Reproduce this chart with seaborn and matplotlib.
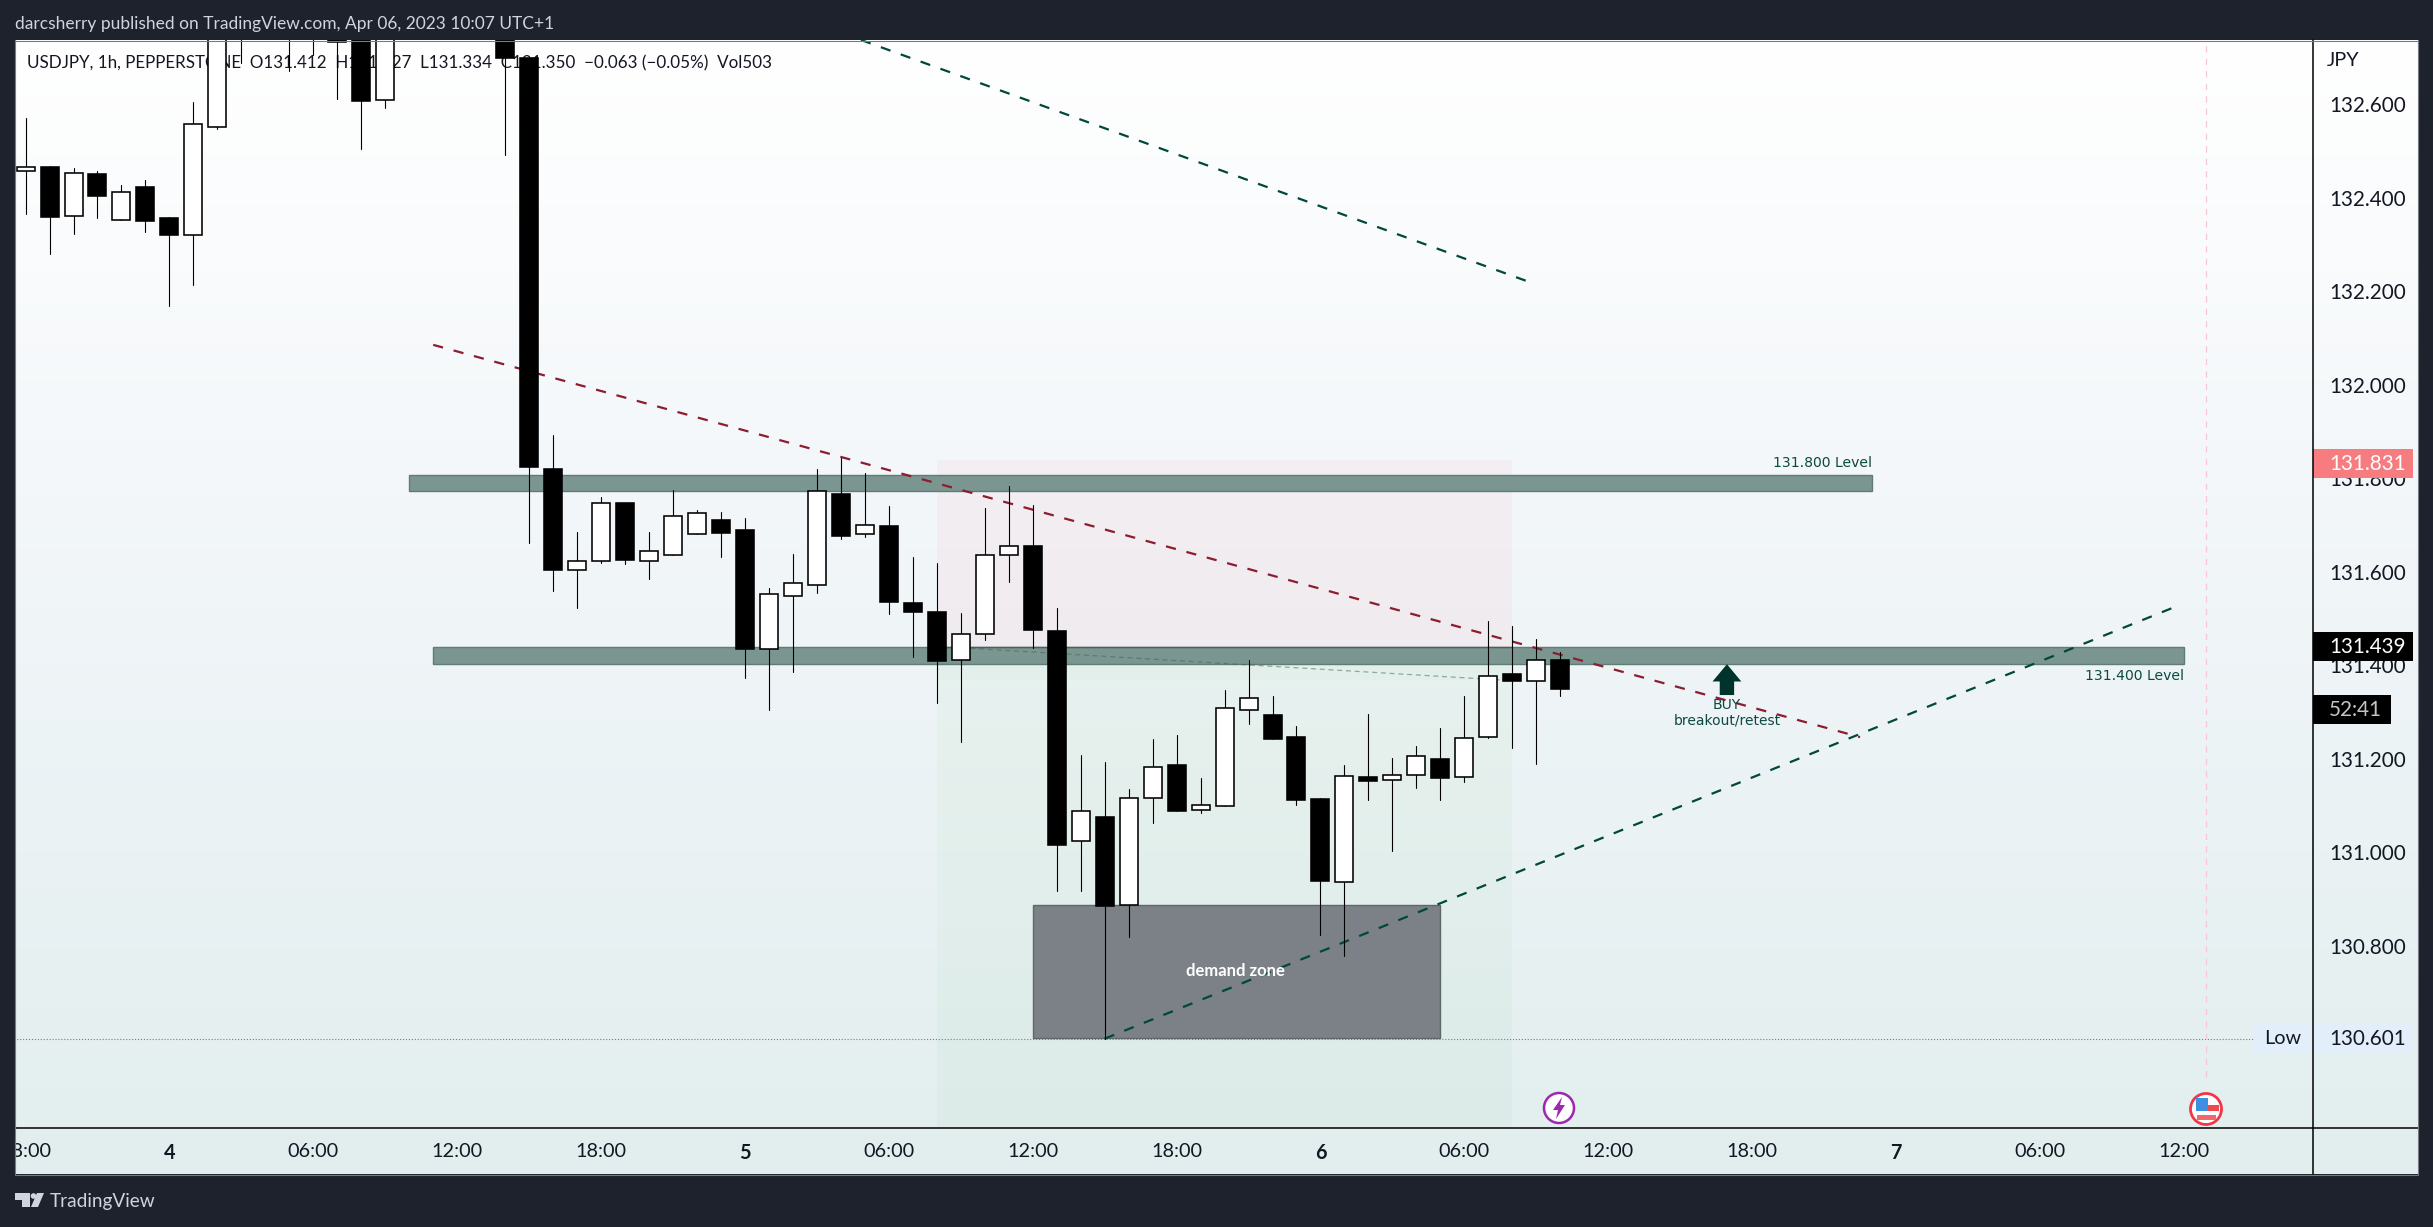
import numpy as np
import pandas as pd
import matplotlib
matplotlib.use("Agg")
import matplotlib.pyplot as plt
import seaborn as sns
from matplotlib.colors import LinearSegmentedColormap
from matplotlib.patches import Rectangle, Circle, Polygon

# candles, one per hour, first one is Apr 3 18:00. Prices,
# the ones above the top of the chart are guesses (they are clipped anyway)
highs = [132.570, 132.467, 132.463, 132.456, 132.427, 132.437, 132.358, 132.604, 132.900, 133.000,
         133.100, 133.100, 133.050, 133.000, 132.950, 132.850, 132.950, 132.950, 132.950, 132.950,
         132.900, 132.699, 131.892, 131.685, 131.759, 131.747, 131.685, 131.774, 131.732, 131.727,
         131.715, 131.565, 131.638, 131.819, 131.844, 131.811, 131.740, 131.631, 131.618, 131.511,
         131.736, 131.783, 131.742, 131.522, 131.207, 131.192, 131.135, 131.241, 131.250, 131.158,
         131.347, 131.410, 131.334, 131.270, 131.116, 131.186, 131.295, 131.201, 131.227, 131.265,
         131.334, 131.494, 131.483, 131.456, 131.427]
lows = [132.365, 132.280, 132.323, 132.357, 132.353, 132.327, 132.169, 132.214, 132.547, 132.687,
        132.850, 132.670, 132.705, 132.611, 132.504, 132.592, 132.760, 132.760, 132.760, 132.760,
        132.490, 131.662, 131.559, 131.523, 131.619, 131.617, 131.585, 131.636, 131.681, 131.632,
        131.373, 131.305, 131.386, 131.555, 131.670, 131.675, 131.510, 131.418, 131.320, 131.236,
        131.454, 131.578, 131.437, 130.917, 130.917, 130.601, 130.819, 131.063, 131.088, 131.084,
        131.099, 131.275, 131.242, 131.101, 130.823, 130.778, 131.111, 131.003, 131.138, 131.111,
        131.150, 131.245, 131.223, 131.189, 131.334]
body_tops = [132.465, 132.465, 132.452, 132.450, 132.411, 132.423, 132.356, 132.557, 132.850, 132.950,
             133.050, 133.000, 133.000, 132.950, 132.850, 132.800, 132.900, 132.900, 132.900, 132.900,
             132.850, 132.699, 131.819, 131.622, 131.746, 131.747, 131.645, 131.720, 131.725, 131.710,
             131.689, 131.553, 131.575, 131.772, 131.766, 131.699, 131.697, 131.533, 131.514, 131.466,
             131.635, 131.654, 131.655, 131.473, 131.087, 131.075, 131.115, 131.183, 131.186, 131.100,
             131.309, 131.329, 131.293, 131.246, 131.113, 131.162, 131.160, 131.166, 131.205, 131.200,
             131.245, 131.376, 131.380, 131.412, 131.412]
body_bots = [132.456, 132.359, 132.361, 132.404, 132.353, 132.350, 132.320, 132.321, 132.550, 132.850,
             132.950, 132.900, 132.850, 132.733, 132.607, 132.608, 132.800, 132.800, 132.800, 132.800,
             132.699, 131.824, 131.604, 131.604, 131.622, 131.625, 131.623, 131.636, 131.681, 131.683,
             131.435, 131.434, 131.547, 131.571, 131.677, 131.680, 131.536, 131.514, 131.409, 131.410,
             131.466, 131.635, 131.476, 131.016, 131.023, 130.885, 130.886, 131.115, 131.088, 131.091,
             131.099, 131.303, 131.242, 131.112, 130.939, 130.937, 131.153, 131.155, 131.166, 131.159,
             131.160, 131.247, 131.367, 131.367, 131.349]
is_up = [1, 0, 1, 0, 1, 0, 0, 1, 1, 0,
         1, 0, 0, 0, 0, 1, 0, 1, 0, 1,
         0, 0, 0, 1, 1, 0, 1, 1, 1, 0,
         0, 1, 1, 1, 0, 1, 0, 0, 0, 1,
         1, 1, 0, 0, 1, 0, 1, 1, 0, 1,
         1, 1, 0, 0, 0, 1, 0, 1, 1, 0,
         1, 1, 0, 1, 0]

# axis labels
price_ticks = [130.8, 131.0, 131.2, 131.4, 131.6, 131.8, 132.0, 132.2, 132.4, 132.6]
time_ticks = [0, 6, 12, 18, 24, 30, 36, 42, 48, 54, 60, 66, 72, 78, 84, 90]
time_labels = ["18:00", "4", "06:00", "12:00", "18:00", "5", "06:00", "12:00", "18:00", "6",
               "06:00", "12:00", "18:00", "7", "06:00", "12:00"]
day_labels = ["4", "5", "6", "7"]

# drawings on the chart (hour index, price)
upper_band = [16, 77, 131.773, 131.806]
lower_band = [17, 90, 131.403, 131.438]
demand_zone = [42, 59, 130.603, 130.886]
position_x = [38, 62]
position_prices = [130.41, 131.439, 131.838]
strip_price = 131.368
red_trend = [[17, 76.5], [132.085, 131.246]]
top_trend = [[34.84, 62.95], [132.737, 132.215]]
rise_trend = [[45, 89.66], [130.601, 131.525]]
drift_line = [[39.4, 61.6], [131.436, 131.368]]
low_price = 130.601
last_price = 131.439
target_price = 131.831
arrow_x = 70.95
arrow_prices = [131.336, 131.402]

DARK = "#1e222d"
FONT = "Lato"
LABEL = "#0b4a40"

sns.set_theme(style="white")
plt.rcParams["font.family"] = [FONT, "DejaVu Sans"]

W, H = 2433, 1227
fig = plt.figure(figsize=(W / 100, H / 100), dpi=100, facecolor=DARK)

# gradient behind chart and both scales
bg = fig.add_axes([15 / W, 1 - 1174 / H, (2418 - 15) / W, (1174 - 40) / H], zorder=0)
cmap = LinearSegmentedColormap.from_list("tv", ["#ffffff", "#f0f5f8", "#e2eeee"])
bg.imshow(np.linspace(0, 1, 256)[:, None], aspect="auto", cmap=cmap)
bg.axis("off")

ax = fig.add_axes([15 / W, 1 - 1128 / H, (2313 - 15) / W, (1128 - 40) / H], zorder=1)
ax.patch.set_alpha(0)

df = pd.DataFrame({"i": range(len(highs)), "high": highs, "low": lows,
                   "top": body_tops, "bot": body_bots, "up": is_up})
df["height"] = df["top"] - df["bot"]

# wicks
wicks = df.melt(id_vars="i", value_vars=["high", "low"], value_name="price").sort_values("i")
sns.lineplot(data=wicks, x="i", y="price", units="i", estimator=None, sort=False,
             color="black", linewidth=0.8, zorder=4, ax=ax)

# bodies
for flag, col in [(1, "#ffffff"), (0, "#000000")]:
    sub = df[df["up"] == flag]
    sns.barplot(data=sub, x="i", y="height", bottom=sub["bot"].values, native_scale=True,
                color=col, edgecolor="black", linewidth=1.15, width=0.75, saturation=1,
                errorbar=None, zorder=5, ax=ax)

# position tool
ax.fill_between(position_x, position_prices[1], position_prices[2], color="#f23645", alpha=0.045, lw=0, zorder=1)
ax.fill_between(position_x, position_prices[0], position_prices[1], color="#4caf50", alpha=0.045, lw=0, zorder=1)
ax.fill_between(position_x, strip_price, position_prices[1], color="#4caf50", alpha=0.025, lw=0, zorder=1)

# level bands and demand zone
for x0, x1, p0, p1 in [upper_band, lower_band]:
    ax.add_patch(Rectangle((x0, p0), x1 - x0, p1 - p0, facecolor="#7b9690", edgecolor="#5f7c77", lw=1.0, zorder=2))
x0, x1, p0, p1 = demand_zone
ax.add_patch(Rectangle((x0, p0), x1 - x0, p1 - p0, facecolor="#7b8186", edgecolor="#5f676b", lw=1.0, zorder=2))
ax.plot(position_x, [last_price, last_price], color="#4e5f5c", lw=1.0, zorder=3)

# trend lines
ax.plot(red_trend[0], red_trend[1], color="#8c1c30", lw=1.6, dashes=(4.6, 4.9), zorder=3)
ax.plot(top_trend[0], top_trend[1], color="#00473c", lw=1.6, dashes=(4.6, 4.9), zorder=3)
ax.plot(rise_trend[0], rise_trend[1], color="#00473c", lw=1.6, dashes=(4.6, 4.9), zorder=3)
ax.plot(drift_line[0], drift_line[1], color="#3f5f57", alpha=0.5, lw=0.9, dashes=(4, 3), zorder=3)

# low marker and event line
ax.plot([-1, 93.06], [low_price, low_price], color="#787b86", lw=0.8, ls=":", zorder=1)
ax.plot([90.93, 90.93], [130.52, 132.8], color="#f7c6d0", lw=0.9, dashes=(5, 5), zorder=1)

# arrow
ax.add_patch(Polygon([(arrow_x - 0.3, arrow_prices[0]), (arrow_x + 0.3, arrow_prices[0]),
                      (arrow_x + 0.3, 131.365), (arrow_x + 0.6, 131.365), (arrow_x, arrow_prices[1]),
                      (arrow_x - 0.6, 131.365), (arrow_x - 0.3, 131.365)],
                     facecolor="#00332c", edgecolor="none", zorder=3))
ax.text(arrow_x, 131.314, "BUY", ha="center", va="center", fontsize=10, color=LABEL, family="DejaVu Sans", zorder=6)
ax.text(arrow_x, 131.282, "breakout/retest", ha="center", va="center", fontsize=10, color=LABEL, family="DejaVu Sans", zorder=6)
ax.text(77, 131.832, "131.800 Level", ha="right", va="center", fontsize=10.1, color=LABEL, family="DejaVu Sans", zorder=6)
ax.text(90, 131.377, "131.400 Level", ha="right", va="center", fontsize=10.1, color=LABEL, family="DejaVu Sans", zorder=6)
ax.text(50.45, 130.745, "demand zone", ha="center", va="center", fontsize=12, color="white", fontweight="bold", zorder=6)

# symbol line sits under the candles
ax.text(12 / 2298, 1 - 23 / 1088,
        "USDJPY, 1h, PEPPERSTONE  O131.412  H131.427  L131.334  C131.350  \u22120.063 (\u22120.05%)  Vol503",
        transform=ax.transAxes, ha="left", va="center", fontsize=12.25, color="#131722", zorder=1)

ax.set_xlim(-0.44, 95.39)
ax.set_ylim(130.410, 132.737)
ax.set_xlabel("")
ax.set_ylabel("")
ax.yaxis.tick_right()
ax.set_yticks(price_ticks)
ax.set_yticklabels([f"{p:.3f}" for p in price_ticks], fontsize=14.9, color="#131722")
ax.set_xticks(time_ticks)
ax.set_xticklabels(time_labels, fontsize=14.3, color="#131722")
for lab in ax.get_xticklabels():
    if lab.get_text() in day_labels:
        lab.set_fontweight("bold")
ax.tick_params(axis="both", length=0)
ax.tick_params(axis="y", pad=11.5)
ax.tick_params(axis="x", pad=11)
ax.grid(False)
for side in ["top", "left", "right", "bottom"]:
    ax.spines[side].set_visible(False)

# price labels on the scale
yt = ax.get_yaxis_transform()
box_w = 100 / 2298
box_h = 29 / 467.5
for p, fc, txt, tc, w in [(target_price, "#f77c80", "131.831", "white", box_w),
                          (last_price, "#000000", "131.439", "white", box_w),
                          (131.305, "#000000", "52:41", "#c4c4c4", 78 / 2298),
                          (low_price, "#e3eefb", "130.601", "#131722", box_w)]:
    ax.add_patch(Rectangle((1.0, p - box_h / 2), w, box_h, transform=yt, facecolor=fc, edgecolor="none",
                           clip_on=False, zorder=8))
    ax.text(1 + 16 / 2298, p, txt, transform=yt, ha="left", va="center", fontsize=14.9, color=tc, zorder=9)
ax.add_patch(Rectangle((1 - 59 / 2298, low_price - box_h / 2), 58 / 2298, box_h, transform=yt,
                       facecolor="#e3eefb", edgecolor="none", clip_on=False, zorder=8))
ax.text(1 - 30 / 2298, low_price, "Low", transform=yt, ha="center", va="center", fontsize=14.3, color="#131722", zorder=9)

# overlay in pixels for the frame, header, footer and icons
ov = fig.add_axes([0, 0, 1, 1], zorder=2)
ov.set_xlim(0, W)
ov.set_ylim(H, 0)
ov.axis("off")
ov.add_patch(Rectangle((0, 0), 15, H, facecolor=DARK, edgecolor="none"))
ov.add_patch(Rectangle((0, 1174.5), W, 60, facecolor=DARK, edgecolor="none"))
ov.plot([15, 2418], [1128, 1128], color="black", lw=1.1)
ov.plot([2313, 2313], [40, 1174], color="black", lw=1.1)
ov.plot([15, 2418], [40.5, 40.5], color="#787b86", lw=0.8)
ov.plot([15, 2418], [1174.5, 1174.5], color="#787b86", lw=0.8)
ov.plot([2418, 2418], [40, 1174], color="#787b86", lw=0.8)
ov.plot([15, 15], [40, 1174], color="#787b86", lw=0.8)

ov.text(15, 24, "darcsherry published on TradingView.com, Apr 06, 2023 10:07 UTC+1",
        ha="left", va="center", fontsize=12.5, color="#d1d4dc")
ov.text(2327, 61, "JPY", ha="left", va="center", fontsize=14.3, color="#131722")
ov.text(50, 1202, "TradingView", ha="left", va="center", fontsize=13.7, color="#d1d4dc")

# TV logo
ov.add_patch(Polygon([(15, 1193), (30, 1193), (30, 1207), (22, 1207), (22, 1200), (15, 1200)], facecolor="#d1d4dc", edgecolor="none"))
ov.add_patch(Circle((33.5, 1196), 2.8, facecolor="#d1d4dc", edgecolor="none"))
ov.add_patch(Polygon([(37, 1193), (44, 1193), (38, 1207), (31, 1207)], facecolor="#d1d4dc", edgecolor="none"))

# event icons
ov.add_patch(Circle((1559, 1108), 15, facecolor="white", edgecolor="#9c27b0", lw=1.8))
ov.add_patch(Polygon([(1562, 1097), (1553, 1110), (1558, 1110), (1556, 1119), (1565, 1105), (1560, 1105)],
                     facecolor="#9c27b0", edgecolor="none"))
ov.add_patch(Circle((2206, 1109), 15.5, facecolor="white", edgecolor="#f23645", lw=2.0))
for r, col in [((2196, 1098, 12, 13), "#3d8fe0"), ((2208, 1105, 11, 6), "#f0484f"), ((2197, 1115, 19, 5), "#f0686c")]:
    ov.add_patch(Rectangle((r[0], r[1]), r[2], r[3], facecolor=col, edgecolor="none"))

fig.savefig("out.png", dpi=100, facecolor=DARK)
